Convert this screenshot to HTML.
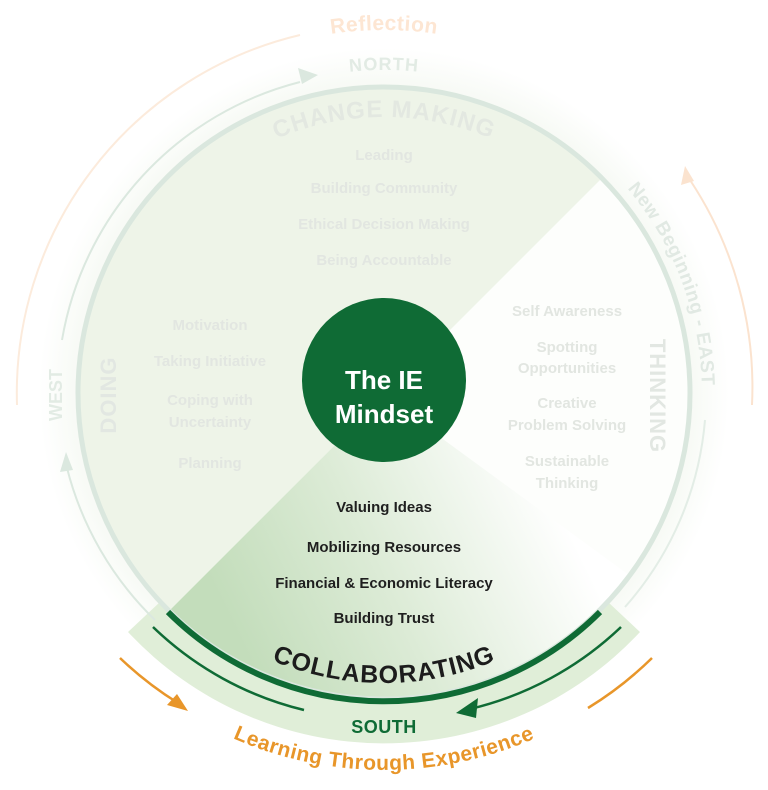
<!DOCTYPE html>
<html><head><meta charset="utf-8"><style>
html,body{margin:0;padding:0;background:#fff;width:768px;height:790px;overflow:hidden}
svg text{font-family:"Liberation Sans",sans-serif;font-weight:bold}
</style></head><body>
<svg width="768" height="790" viewBox="0 0 768 790" xmlns="http://www.w3.org/2000/svg">
<defs>
<linearGradient id="sg" x1="230" y1="620" x2="540" y2="470" gradientUnits="userSpaceOnUse">
<stop offset="0" stop-color="#c3ddbb"/><stop offset="0.45" stop-color="#dcebd6"/><stop offset="1" stop-color="#ffffff"/></linearGradient>
<radialGradient id="glow" cx="384" cy="393" r="345" gradientUnits="userSpaceOnUse">
<stop offset="0.85" stop-color="#f4f8f1"/><stop offset="1" stop-color="#ffffff"/></radialGradient>
<clipPath id="disc"><circle cx="384" cy="393" r="306"/></clipPath>
<path id="pCM" d="M108,393 A276,276 0 0 1 660,393"/>
<path id="pN" d="M61,393 A323,323 0 0 1 707,393"/>
<path id="pR" d="M21,393 A363,363 0 0 1 747,393"/>
<path id="pE" d="M384,75 A318,318 0 0 1 384,711"/>
<path id="pC" d="M94,393 A290,290 0 0 0 674,393"/>
<path id="pL" d="M7,393 A377,377 0 0 0 761,393"/>
</defs>
<circle cx="384" cy="393" r="345" fill="url(#glow)"/>
<path d="M128,632 A350,350 0 0 0 640,632 L608,602 A306,306 0 0 1 160,602 Z" fill="#e0eed8"/>
<g clip-path="url(#disc)">
<rect x="0" y="0" width="768" height="790" fill="#fdfefc"/>
<polygon points="-20,800 384,396 800,-20 0,-20" fill="#eef4e8"/>
<polygon points="384,396 -20,800 800,800 800,700" fill="url(#sg)"/>
</g>
<circle cx="384" cy="393" r="306" fill="none" stroke="#dae7de" stroke-width="5"/>
<path d="M168,612 A306,306 0 0 0 600,612" fill="none" stroke="#0f6b35" stroke-width="6"/>
<path d="M153,627 A328,328 0 0 0 304,710" fill="none" stroke="#0f6b35" stroke-width="2.5"/>
<path d="M621,627 A328,328 0 0 1 470,709" fill="none" stroke="#0f6b35" stroke-width="2.5"/>
<polygon points="456,713 478,698 476,718" fill="#0f6b35"/>
<path d="M155,620 A322,322 0 0 1 67,468" fill="none" stroke="#dbe8df" stroke-width="2"/>
<polygon points="66,452 60,472 73,470" fill="#dbe8df"/>
<path d="M62,340 A322,322 0 0 1 300,82" fill="none" stroke="#dbe8df" stroke-width="2"/>
<polygon points="318,75 298,68 302,84" fill="#dbe8df"/>
<path d="M705,420 A322,322 0 0 1 625,607" fill="none" stroke="#e3ede6" stroke-width="2"/>
<path d="M17,405 A368,368 0 0 1 300,35" fill="none" stroke="#fcebdc" stroke-width="2"/>
<path d="M752,405 A375,375 0 0 0 690,180" fill="none" stroke="#fbe3cf" stroke-width="2"/>
<polygon points="685,166 681,185 694,181" fill="#fbe3cf"/>
<path d="M120,658 A360,360 0 0 0 178,703" fill="none" stroke="#e8962a" stroke-width="2.5"/>
<polygon points="188,711 167,705 177,694" fill="#e8962a"/>
<path d="M588,708 A360,360 0 0 0 652,658" fill="none" stroke="#e8962a" stroke-width="2.5"/>
<circle cx="384" cy="380" r="82" fill="#0f6b35"/>
<text x="384" y="389" text-anchor="middle" font-size="26" fill="#fff">The IE</text>
<text x="384" y="423" text-anchor="middle" font-size="26" fill="#fff">Mindset</text>
<text font-size="24" fill="#e3e8e1" letter-spacing="1"><textPath href="#pCM" startOffset="50%" text-anchor="middle">CHANGE MAKING</textPath></text>
<text font-size="18" fill="#e2ebe4" letter-spacing="1"><textPath href="#pN" startOffset="50%" text-anchor="middle">NORTH</textPath></text>
<text font-size="21" fill="#fde6d3" letter-spacing="0.5"><textPath href="#pR" startOffset="50%" text-anchor="middle">Reflection</textPath></text>
<text font-size="19" fill="#e1e9e3" letter-spacing="0.5"><textPath href="#pE" startOffset="277">New Beginning  -  EAST</textPath></text>
<text font-size="25" fill="#1c1c1c" letter-spacing="1"><textPath href="#pC" startOffset="50%" text-anchor="middle">COLLABORATING</textPath></text>
<text font-size="21" fill="#e8962a" letter-spacing="0.5"><textPath href="#pL" startOffset="50%" text-anchor="middle">Learning Through Experience</textPath></text>
<text x="384" y="733" text-anchor="middle" font-size="18" fill="#0f6b35" letter-spacing="0.5">SOUTH</text>
<text transform="translate(62,395) rotate(-90)" text-anchor="middle" font-size="18" fill="#e2ebe4">WEST</text>
<text transform="translate(116,395) rotate(-90)" text-anchor="middle" font-size="22" fill="#e2e7e2" letter-spacing="1">DOING</text>
<text transform="translate(650,396) rotate(90)" text-anchor="middle" font-size="22" fill="#e2e7e2" letter-spacing="1">THINKING</text>
<g font-size="15" fill="#e2e6e1" text-anchor="middle">
<text x="384" y="160">Leading</text>
<text x="384" y="193">Building Community</text>
<text x="384" y="229">Ethical Decision Making</text>
<text x="384" y="265">Being Accountable</text>
<text x="210" y="330">Motivation</text>
<text x="210" y="366">Taking Initiative</text>
<text x="210" y="405">Coping with</text>
<text x="210" y="427">Uncertainty</text>
<text x="210" y="468">Planning</text>
<text x="567" y="316">Self Awareness</text>
<text x="567" y="352">Spotting</text>
<text x="567" y="373">Opportunities</text>
<text x="567" y="408">Creative</text>
<text x="567" y="430">Problem Solving</text>
<text x="567" y="466">Sustainable</text>
<text x="567" y="488">Thinking</text>
</g>
<g font-size="15" fill="#1f1f1f" text-anchor="middle">
<text x="384" y="512">Valuing Ideas</text>
<text x="384" y="552">Mobilizing Resources</text>
<text x="384" y="588">Financial &amp; Economic Literacy</text>
<text x="384" y="623">Building Trust</text>
</g>
</svg>
</body></html>
